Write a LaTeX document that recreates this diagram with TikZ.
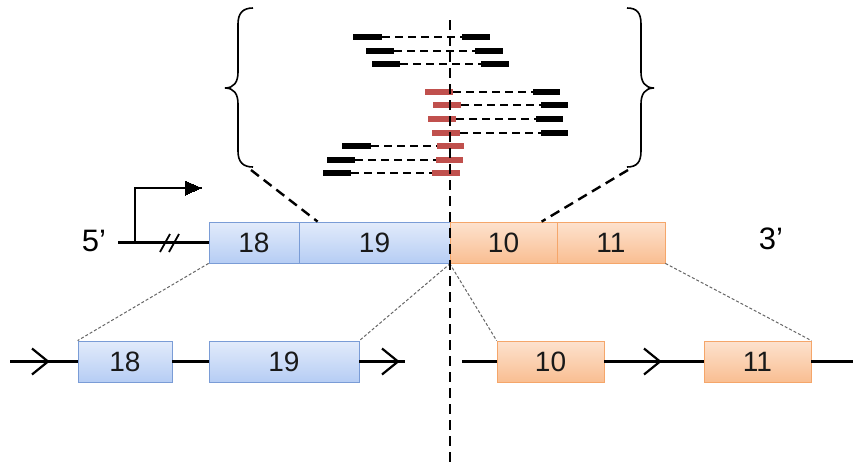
\documentclass[tikz,border=0pt]{standalone}
\usepackage{fontspec}
\setmainfont{Liberation Sans}
\usetikzlibrary{arrows.meta,calc}
\begin{document}
\begin{tikzpicture}[x=1pt,y=-1pt,
  exonbase/.style={rectangle,inner sep=0pt,minimum height=41pt,line width=0.8pt,
    font=\fontsize{28}{30}\selectfont,text=black!90},
  blueexon/.style={exonbase,draw={rgb,255:red,122;green,156;blue,214},
    top color={rgb,255:red,226;green,235;blue,251},bottom color={rgb,255:red,182;green,205;blue,244}},
  orangeexon/.style={exonbase,draw={rgb,255:red,245;green,166;blue,106},
    top color={rgb,255:red,253;green,226;blue,206},bottom color={rgb,255:red,249;green,190;blue,146}},
  strand/.style={line width=2.2pt,black},
  chev/.style={line width=2.2pt,black},
  readbar/.style={line width=6pt,black},
  redbar/.style={line width=6pt,draw={rgb,255:red,192;green,80;blue,77}},
  gapline/.style={line width=2pt,dash pattern=on 8pt off 5pt},
  zoomline/.style={line width=2.4pt,dash pattern=on 10pt off 6pt},
  mapline/.style={line width=1pt,black!60,dash pattern=on 3pt off 2pt},
  endlabel/.style={font=\fontsize{31}{33}\selectfont}]
\useasboundingbox (0,0) rectangle (853,464);

% fused transcript (top row)
\node[blueexon,minimum width=90pt]  (t18) at (254,242.5) {18};
\node[blueexon,minimum width=151pt] (t19) at (374.5,242.5) {19};
\node[orangeexon,minimum width=107pt] (t10) at (503.5,242.5) {10};
\node[orangeexon,minimum width=108pt] (t11) at (611,242.5) {11};
\node[endlabel] (five) at (94,241) {5’};
\node[endlabel] (three) at (771,239) {3’};

% upstream strand, break mark and promoter arrow
\coordinate (s0) at (118,242.5);
\coordinate (p0) at (135,242.5);
\coordinate (p1) at (135,188);
\coordinate (p2) at (201,188);
\draw[strand] (s0) -- (t18.west);
\draw[strand,line cap=rect] (p0) -- (p1) -- (p2);
\draw[black,line width=0pt,fill=black] (p2) -- ++(-16,-7) -- ++(0,14) -- cycle;
\draw[line width=1.8pt] (160,252) -- (170,234) (169,252) -- (179,234);

% genomic exons (bottom row)
\node[blueexon,minimum width=94pt]  (g18) at (125,361.5) {18};
\node[blueexon,minimum width=150pt] (g19) at (284,361.5) {19};
\node[orangeexon,minimum width=107pt] (g10) at (550.5,361.5) {10};
\node[orangeexon,minimum width=107pt] (g11) at (757.5,361.5) {11};

\coordinate (la) at (10,361.5);
\coordinate (lb) at (405,361.5);
\coordinate (ra) at (462,361.5);
\coordinate (rb) at (853,361.5);
\draw[strand] (la) -- (g18.west);
\draw[strand] (g18.east) -- (g19.west);
\draw[strand] (g19.east) -- (lb);
\draw[strand] (ra) -- (g10.west);
\draw[strand] (g10.east) -- (g11.west);
\draw[strand] (g11.east) -- (rb);
\foreach \tx in {48,398,660}
  \draw[chev] (\tx-16,348.5) -- (\tx,361.5) -- (\tx-16,374.5);

% mapping of fused exons onto the genome
\draw[mapline] (t18.south west) -- (g18.north west);
\draw[mapline] (t19.south east) -- (g19.north east);
\draw[mapline] (t10.south west) -- (g10.north west);
\draw[mapline] (t11.south east) -- (g11.north east);

% braces around the read pairs
\draw[line width=1.6pt] (253,8) .. controls (243,8) and (238,13) .. (238,24) -- (238,72)
  .. controls (238,82) and (234,88) .. (225,88) .. controls (234,88) and (238,94) .. (238,104)
  -- (238,151) .. controls (238,162) and (243,167) .. (253,167);
\draw[line width=1.6pt] (627,8) .. controls (637,8) and (641,13) .. (641,24) -- (641,72)
  .. controls (641,82) and (645,88) .. (654,88) .. controls (645,88) and (641,94) .. (641,104)
  -- (641,151) .. controls (641,162) and (637,167) .. (627,167);

% zoom lines from braces to the junction region
\coordinate (zl) at (251,170);
\coordinate (zr) at (628,170);
\draw[zoomline] (zl) -- ($(t19.north west)+(19,0)$);
\draw[zoomline] (zr) -- ($(t10.north west)+(92,0)$);

% paired reads: black = mate, red = junction-spanning
\foreach \ya/\xa/\xb/\xc/\xd in {37/353/382/462/490, 51/366/394/475/503, 64/372/400/481/509}{
  \draw[gapline] (\xb,\ya) -- (\xc,\ya);
  \draw[readbar] (\xa,\ya) -- (\xb,\ya);
  \draw[readbar] (\xc,\ya) -- (\xd,\ya);
}
\foreach \ya/\xa/\xb/\xc/\xd in {92/425/453/533/560, 105/433/461/541/568, 119/428/456/536/563, 133/432/460/541/568}{
  \draw[gapline] (\xb,\ya) -- (\xc,\ya);
  \draw[redbar] (\xa,\ya) -- (\xb,\ya);
  \draw[readbar] (\xc,\ya) -- (\xd,\ya);
}
\foreach \ya/\xa/\xb/\xc/\xd in {146/342/371/437/464, 160/327/355/436/463, 173/323/351/432/460}{
  \draw[gapline] (\xb,\ya) -- (\xc,\ya);
  \draw[readbar] (\xa,\ya) -- (\xb,\ya);
  \draw[redbar] (\xc,\ya) -- (\xd,\ya);
}

% fusion breakpoint
\coordinate (bp0) at (450,20);
\coordinate (bp1) at (450,464);
\draw[zoomline,line width=2pt] (bp0) -- (bp1);
\end{tikzpicture}
\end{document}
